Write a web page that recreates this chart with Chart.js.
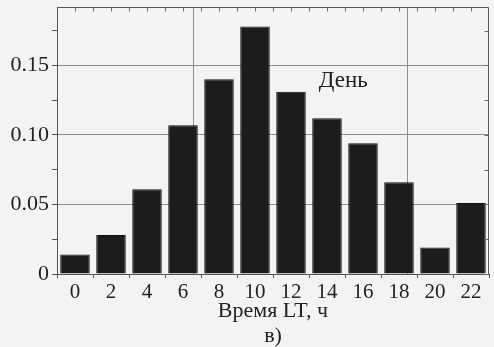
<!DOCTYPE html>
<html>
<head>
<meta charset="utf-8">
<script src="https://cdn.jsdelivr.net/npm/chart.js@4.4.0/dist/chart.umd.min.js"></script>
<style>
  html, body { margin: 0; padding: 0; background: #f3f3f5; }
</style>
</head>
<body>
<canvas id="chart" width="494" height="347"></canvas>
<script>
const hours = ['0', '2', '4', '6', '8', '10', '12', '14', '16', '18', '20', '22'];
const dayShare = [0.014, 0.028, 0.061, 0.107, 0.140, 0.178, 0.131, 0.112, 0.094, 0.066, 0.019, 0.051];
const yTicks = [0, 0.05, 0.10, 0.15];
const yMinorTicks = [0, 0.025, 0.05, 0.075, 0.10, 0.125, 0.15, 0.175];
const gridHours = [6.55, 18.45];
const topTickHours = [0, 1, 2, 3, 4, 5, 6, 7, 8, 9, 10, 11, 12, 13, 14, 15, 16, 17, 18, 19, 20, 21, 22];
const noteLabel = { text: 'День', hour: 14.9, y: 0.139 };

const serif = '"Liberation Serif", "DejaVu Serif", serif';
const ink = '#222';
const axisGray = '#555';
const gridGray = '#8e8e8e';

// hours -> category index of the x scale (one category every 2 h)
const hourToIndex = h => h / 2;

const framePlugin = {
    id: 'frame',
    beforeDatasetsDraw(chart) {
        const { ctx, chartArea, scales } = chart;
        ctx.save();
        ctx.strokeStyle = gridGray;
        ctx.lineWidth = 1;
        gridHours.forEach(h => {
            const px = Math.round(scales.x.getPixelForValue(hourToIndex(h))) + 0.5;
            ctx.beginPath();
            ctx.moveTo(px, chartArea.top);
            ctx.lineTo(px, chartArea.bottom);
            ctx.stroke();
        });
        ctx.restore();
    },
    afterDraw(chart) {
        const { ctx, chartArea, scales } = chart;
        ctx.save();
        // top and right sides of the frame
        ctx.strokeStyle = axisGray;
        ctx.lineWidth = 1;
        ctx.beginPath();
        const top = Math.round(chartArea.top) + 0.5;
        const right = Math.round(chartArea.right) - 0.5;
        ctx.moveTo(chartArea.left, top);
        ctx.lineTo(right, top);
        ctx.lineTo(right, chartArea.bottom);
        ctx.stroke();

        ctx.strokeStyle = '#6a6a6a';
        ctx.beginPath();
        topTickHours.forEach(h => {
            const px = Math.round(scales.x.getPixelForValue(hourToIndex(h))) + 0.5;
            ctx.moveTo(px, top);
            ctx.lineTo(px, top + 4);
        });
        yMinorTicks.forEach(v => {
            const py = Math.round(scales.y.getPixelForValue(v)) + 0.5;
            ctx.moveTo(right, py);
            ctx.lineTo(right - 4, py);
        });
        ctx.stroke();

        const px = scales.x.getPixelForValue(hourToIndex(noteLabel.hour));
        const py = scales.y.getPixelForValue(noteLabel.y);
        ctx.font = '23px ' + serif;
        ctx.fillStyle = ink;
        ctx.textAlign = 'center';
        ctx.textBaseline = 'middle';
        ctx.fillText(noteLabel.text, px, py);
        ctx.restore();
    }
};

const ctx = document.getElementById('chart');

new Chart(ctx, {
    type: 'bar',
    data: {
        labels: hours,
        datasets: [{
            data: dayShare,
            backgroundColor: '#1c1c1c',
            borderColor: '#111',
            borderWidth: 1,
            barPercentage: 0.82,
            categoryPercentage: 1.0
        }]
    },
    options: {
        responsive: false,
        animation: false,
        layout: { padding: { top: 7, right: 5, left: 0, bottom: 0 } },
        plugins: {
            legend: { display: false },
            tooltip: { enabled: false }
        },
        scales: {
            x: {
                position: 'bottom',
                afterFit: s => {
                    s.height = 73;
                    s.paddingLeft = 0;
                    s.paddingRight = 0;
                },
                border: { display: true, color: axisGray, width: 1 },
                grid: {
                    offset: true,
                    drawOnChartArea: false,
                    drawTicks: true,
                    tickLength: 4,
                    tickColor: axisGray
                },
                ticks: {
                    color: ink,
                    font: { family: serif, size: 21, lineHeight: 1.0 },
                    padding: 4,
                    maxRotation: 0,
                    autoSkip: false
                },
                title: {
                    display: true,
                    text: ['Время LT, ч', 'в)'],
                    color: ink,
                    font: { family: serif, size: 22, lineHeight: 1.1 },
                    padding: { top: 0, bottom: -1 }
                }
            },
            y: {
                position: 'left',
                min: 0,
                max: 0.192,
                afterFit: s => {
                    s.width = 57;
                    s.paddingTop = 0;
                    s.paddingBottom = 0;
                },
                afterBuildTicks: s => {
                    s.ticks = yMinorTicks.map(v => ({ value: v }));
                },
                border: { display: true, color: axisGray, width: 1 },
                grid: {
                    drawTicks: true,
                    tickLength: 5,
                    color: c => {
                        const v = c.tick ? c.tick.value : 0;
                        const major = yTicks.some(m => Math.abs(m - v) < 1e-6);
                        return major && v > 0 ? gridGray : 'rgba(0,0,0,0)';
                    },
                    tickColor: axisGray
                },
                ticks: {
                    color: ink,
                    font: { family: serif, size: 22 },
                    padding: 3,
                    callback: v => {
                        const major = yTicks.find(m => Math.abs(m - v) < 1e-6);
                        if (major === undefined) return '';
                        return major === 0 ? '0' : major.toFixed(2);
                    }
                }
            }
        }
    },
    plugins: [framePlugin]
});
</script>
</body>
</html>
